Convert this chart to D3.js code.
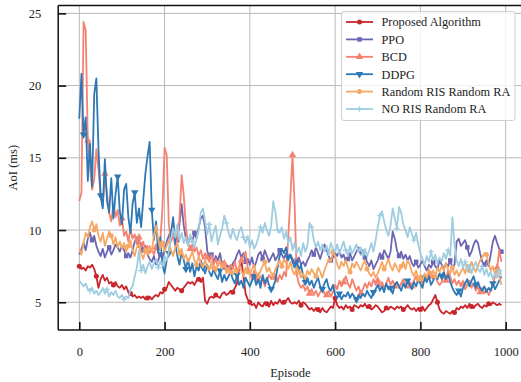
<!DOCTYPE html>
<html><head><meta charset="utf-8">
<script src="https://cdn.jsdelivr.net/npm/d3@7/dist/d3.min.js"></script>
<style>body{margin:0;background:#fff}svg{display:block}</style>
</head><body>
<svg id="chart" width="521" height="382"></svg>
<script>
// ---------- data (AoI in ms, sampled every 5 episodes, episodes 0..990) ----------
const episodeStep = 5;
const seriesNames = ["Proposed Algorithm", "PPO", "BCD", "DDPG", "Random RIS Random RA", "NO RIS Random RA"];
const xTicks = [0, 200, 400, 600, 800, 1000];
const yTicks = [5, 10, 15, 20, 25];

const proposed = [
7.5,7.3,7.4,7.2,7.5,7.4,7.6,7.3,6.8,6.0,
6.6,6.9,6.5,6.7,6.3,6.4,6.2,6.4,6.1,6.0,
6.2,5.9,6.1,5.7,5.6,5.4,5.5,5.3,5.4,5.3,
5.4,5.2,5.3,5.4,5.2,5.4,5.5,5.4,5.7,5.6,
5.9,6.0,6.4,6.2,6.0,5.8,6.0,5.9,5.8,6.0,
6.2,6.4,6.3,6.4,6.2,6.5,6.6,6.4,6.7,5.1,
4.9,5.3,5.4,5.3,5.5,5.4,5.3,5.6,5.7,5.5,
5.6,5.8,5.7,6.0,6.3,7.4,7.9,6.8,5.6,5.2,
5.0,4.8,4.9,4.6,5.0,4.8,4.7,5.0,4.9,4.7,
5.1,4.8,5.0,4.9,5.2,4.9,5.0,5.1,5.3,5.0,
4.9,5.0,4.9,5.1,4.8,5.0,4.9,4.7,4.5,4.6,
4.4,4.6,4.5,4.3,4.6,4.4,4.3,4.5,4.7,4.6,
5.3,4.8,4.6,4.7,4.5,4.8,4.6,4.7,4.5,4.8,
4.7,4.6,4.8,4.7,4.9,4.6,4.7,4.5,4.6,4.8,
4.7,4.5,4.3,4.4,4.6,4.5,4.7,4.6,4.5,4.7,
4.6,4.7,4.5,4.6,4.8,4.6,4.5,4.6,4.4,4.6,
4.5,4.7,4.4,4.6,4.8,4.9,5.2,5.5,5.0,4.5,
4.3,4.2,4.4,4.3,4.2,4.4,4.3,4.6,4.5,4.7,
4.6,4.8,4.6,4.9,4.7,4.6,4.8,4.9,4.7,4.6,
4.8,4.7,4.9,4.8,5.0,4.9,4.8,4.9,4.8];

const ppo = [
8.3,8.7,9.1,8.6,9.4,9.8,9.3,9.6,8.9,8.5,
8.2,8.7,8.1,8.5,8.8,8.3,8.6,9.0,8.8,8.5,
8.9,8.6,8.2,8.4,8.1,8.6,9.2,9.5,8.8,9.1,
8.6,8.9,8.3,8.0,7.8,8.2,7.6,7.9,8.3,8.0,
8.6,9.2,9.6,10.0,9.5,9.8,9.3,10.4,11.8,10.3,
9.4,9.0,9.6,9.2,9.8,9.4,10.2,10.8,11.0,10.2,
8.6,8.0,8.3,7.8,8.2,7.9,8.4,7.6,7.3,7.6,
7.4,7.2,7.7,7.9,8.3,8.6,8.1,8.4,7.8,8.0,
7.6,8.1,7.4,7.8,8.3,8.5,8.0,8.6,8.2,7.8,
8.1,8.4,7.9,8.2,8.6,8.3,8.0,8.4,8.1,8.3,
8.0,7.7,7.9,8.1,7.6,7.8,7.5,7.9,8.2,8.6,
8.3,8.8,8.4,8.0,8.5,9.0,8.6,8.2,7.9,8.1,
8.4,8.2,8.6,8.1,8.3,7.8,8.0,8.4,7.9,8.2,
8.5,8.8,8.3,8.6,8.1,7.8,7.5,7.9,7.3,7.6,
7.9,8.4,8.1,8.6,8.3,8.0,8.5,9.9,9.4,8.6,
8.2,8.5,8.0,8.3,7.9,8.2,7.7,7.5,7.8,7.4,
7.6,7.9,7.5,7.2,7.6,7.4,7.8,7.5,7.3,7.9,
7.6,7.3,7.7,7.5,7.9,7.4,7.6,9.2,9.4,8.9,
9.1,9.3,8.8,8.2,8.5,9.0,9.3,9.1,8.4,7.8,
7.6,7.9,7.5,8.3,9.2,9.6,9.1,8.7,8.5];

const bcd = [
12.0,12.6,24.4,23.8,16.2,14.5,12.8,13.5,15.6,14.2,
12.3,11.6,13.9,12.5,11.2,10.6,11.8,10.9,11.4,10.3,
10.8,9.6,9.9,9.2,10.1,9.4,9.7,9.0,9.5,8.8,
9.2,8.6,8.9,8.4,8.7,8.3,8.8,8.5,9.3,11.5,
15.7,15.2,10.4,9.2,9.6,8.9,9.3,10.8,13.8,12.4,
10.2,9.1,8.7,9.0,8.5,8.8,8.2,8.6,8.0,8.4,
8.1,7.8,8.3,7.6,8.0,7.5,7.9,7.3,7.7,7.4,
7.2,7.6,7.3,7.8,7.1,7.5,7.9,8.2,8.5,7.4,
7.0,6.6,7.2,6.4,6.8,6.3,6.7,6.1,6.5,6.9,
6.6,7.0,6.7,6.4,6.9,6.6,7.1,6.8,9.5,12.2,
15.2,11.8,6.9,6.3,6.0,6.2,5.8,6.1,5.6,5.9,
5.5,5.8,5.4,5.7,6.0,5.6,5.5,5.8,5.4,5.7,
6.2,5.9,6.5,6.1,6.4,6.8,6.3,6.0,6.6,6.2,
5.8,6.1,5.6,5.9,6.3,6.0,6.4,6.1,6.6,6.2,
6.5,6.1,6.4,6.0,6.3,6.7,6.2,6.5,6.1,6.4,
6.0,6.3,6.6,6.2,6.0,6.4,6.1,6.5,6.8,6.4,
6.7,6.3,6.9,6.5,6.8,7.1,6.6,7.0,6.4,6.2,
6.4,6.9,6.5,7.2,6.8,6.3,6.6,6.2,6.5,6.1,
6.3,5.9,6.2,6.5,6.0,6.3,5.8,6.1,5.7,6.0,
5.6,5.9,5.5,5.8,6.2,6.8,7.4,8.6,7.8];

const ddpg = [
17.7,20.8,16.6,17.8,13.4,16.0,13.0,19.4,20.5,15.6,
12.4,11.5,14.9,12.0,11.2,13.6,10.8,12.5,13.7,11.3,
10.4,12.8,13.2,10.9,9.8,11.8,12.6,10.5,11.5,10.2,
12.1,13.9,15.1,16.1,11.4,9.3,10.6,8.4,9.5,7.6,
7.0,7.9,8.4,9.7,10.9,9.1,8.2,7.6,8.5,7.9,
7.3,8.0,7.1,7.7,6.8,7.5,7.2,7.9,7.4,7.0,
7.6,7.1,6.8,7.3,6.9,6.6,7.2,6.4,6.9,6.5,
6.8,7.1,6.6,6.3,6.9,6.2,6.5,6.0,6.7,6.4,
6.1,6.5,6.8,6.2,6.6,6.0,6.9,6.3,6.7,6.2,
5.9,6.1,6.5,7.4,8.2,8.7,8.4,8.8,8.1,8.3,
7.8,7.4,7.9,7.2,7.6,6.8,6.4,6.7,6.2,6.5,
6.0,6.4,6.7,6.1,5.9,6.3,6.6,6.0,5.8,6.2,
5.5,5.3,5.6,5.2,5.5,5.4,5.7,5.3,5.6,5.4,
5.2,5.5,5.3,5.6,5.4,5.8,5.5,5.3,5.7,5.9,
6.2,5.8,6.1,5.7,6.3,5.9,6.0,5.6,6.2,6.4,
6.1,5.8,6.3,6.0,6.5,6.2,5.9,6.4,6.1,6.6,
6.3,6.0,6.7,6.4,6.8,6.2,6.5,6.9,6.6,7.0,
6.8,7.1,6.6,6.9,6.4,6.0,5.7,5.5,5.8,5.4,
6.0,6.3,6.6,6.1,6.5,6.8,6.2,6.4,6.0,5.8,
6.1,5.7,6.0,5.8,6.3,5.9,6.2,6.5,6.8];

const randomRis = [
8.7,8.3,9.1,9.8,9.5,10.2,10.6,10.0,10.4,9.6,
9.2,9.8,8.9,9.4,9.9,9.6,9.0,9.5,8.8,9.2,
8.7,9.1,8.5,8.9,9.3,8.6,8.2,8.8,9.0,8.4,
8.0,8.6,8.3,8.9,8.5,9.6,10.3,9.4,8.7,9.1,
8.5,8.9,9.3,8.6,8.2,8.8,9.1,8.4,8.7,8.0,
8.3,7.8,8.1,8.5,7.9,7.6,8.2,7.7,7.4,7.9,
7.5,7.2,7.8,7.4,7.1,7.6,7.9,7.3,7.7,7.0,
7.4,7.1,6.9,7.3,7.0,7.5,7.2,6.8,7.4,7.1,
6.9,7.3,7.6,7.0,6.7,7.2,7.5,7.8,7.1,7.4,
7.0,6.8,7.3,7.6,7.9,7.5,8.0,7.7,7.3,7.8,
7.2,6.9,7.4,7.1,6.7,7.0,6.6,7.2,6.9,7.3,
7.0,6.8,7.4,7.1,6.7,7.2,7.6,8.0,7.8,8.5,
8.2,7.6,7.3,7.8,7.5,7.9,7.4,7.1,7.7,7.4,
7.8,7.5,7.2,7.6,7.9,7.3,7.0,6.8,7.1,6.7,
7.0,7.4,7.8,7.3,7.6,8.0,7.5,7.2,7.7,7.4,
7.1,7.5,7.8,7.3,7.9,7.6,7.1,6.8,7.2,6.6,
6.9,6.5,7.0,6.7,7.3,6.9,7.2,6.8,7.4,7.1,
7.5,7.2,7.7,7.3,7.0,7.4,6.9,7.2,6.8,7.1,
7.4,7.0,7.6,7.2,7.8,7.4,7.1,7.5,7.9,8.1,
8.4,8.3,7.7,7.2,7.5,6.9,7.3,6.8,6.2];

const noRis = [
6.5,6.3,6.1,6.3,5.9,5.8,6.0,5.6,5.8,5.5,
5.7,6.0,5.6,5.9,5.4,5.7,5.5,5.8,5.4,5.3,
5.5,5.2,5.4,5.3,5.9,6.1,6.8,7.4,8.6,7.2,
7.6,7.0,7.5,7.8,7.3,7.7,8.0,7.4,7.8,7.5,
8.2,7.9,8.5,9.4,10.1,9.6,10.4,9.3,9.8,9.1,
9.5,8.9,9.7,9.2,8.8,9.4,10.0,11.2,11.5,10.6,
9.7,10.4,9.2,9.8,10.3,9.0,9.6,10.1,11.0,10.5,
9.8,9.4,10.1,9.6,9.3,9.9,10.2,9.5,9.1,9.6,
8.8,9.3,8.7,9.0,9.5,10.2,9.8,10.5,10.0,9.6,
10.3,12.0,11.2,10.0,9.8,10.2,9.4,9.9,9.1,9.5,
8.6,9.0,8.4,8.8,8.2,9.1,8.5,8.9,10.5,10.2,
9.3,8.8,9.2,8.6,9.0,8.5,8.9,8.4,9.1,8.7,
8.5,9.0,8.3,8.8,9.2,8.6,8.2,8.9,8.4,8.7,
9.0,8.5,8.8,8.3,8.7,8.2,8.6,9.1,8.5,9.3,
10.2,11.0,11.3,10.6,10.0,9.6,10.3,11.5,10.8,10.1,
11.6,11.2,10.4,10.0,9.5,10.2,9.7,9.3,9.8,9.0,
8.4,8.0,7.6,8.2,7.8,8.5,7.9,8.3,7.7,8.1,
7.8,8.4,8.0,8.6,8.2,10.9,9.0,7.9,7.5,8.0,
7.4,7.8,7.2,7.6,7.0,7.5,7.8,7.3,7.1,7.5,
6.9,7.3,6.8,7.1,6.6,7.0,6.7,7.2,6.9];

const seriesValues = [proposed, ppo, bcd, ddpg, randomRis, noRis];
const seriesColors = ["#c9252b", "#6c66b2", "#f5816f", "#2d78b6", "#f6a763", "#9ecde1"];
const markerTypes = ["circle", "square", "triUp", "triDown", "circle", "plus"];
const markerOffsets = [0, 2, 4, 6, 1, 3];

// ---------- layout ----------
const svg = d3.select("#chart");
const PL = 58.2, PR = 522.5, PT = 5.4, PB = 330;
const x = d3.scaleLinear().domain([-49.5, 1039.5]).range([PL, PR]);
const y = d3.scaleLinear().domain([3.08, 25.55]).range([PB, PT]);
const FONT = "'Liberation Serif','Times New Roman',serif";
const FS = 12.5;

// grid
const g = svg.append("g");
g.selectAll("line.gx").data(xTicks).enter().append("line")
  .attr("x1", d => x(d)).attr("x2", d => x(d)).attr("y1", PT).attr("y2", PB)
  .attr("stroke", "#b8b8b8").attr("stroke-width", 1);
g.selectAll("line.gy").data(yTicks).enter().append("line")
  .attr("x1", PL).attr("x2", PR).attr("y1", d => y(d)).attr("y2", d => y(d))
  .attr("stroke", "#b8b8b8").attr("stroke-width", 1);

// clip
svg.append("clipPath").attr("id", "clip").append("rect")
  .attr("x", PL).attr("y", PT).attr("width", PR - PL).attr("height", PB - PT);

const line = d3.line().x((d, i) => x(i * episodeStep)).y(d => y(d));
const plot = svg.append("g").attr("clip-path", "url(#clip)");

function marker(sel, type, color, s) {
  if (type === "circle") {
    sel.append("circle").attr("r", s * 0.5).attr("fill", color);
  } else if (type === "square") {
    sel.append("rect").attr("x", -s * 0.45).attr("y", -s * 0.45).attr("width", s * 0.9).attr("height", s * 0.9).attr("fill", color);
  } else if (type === "triUp" || type === "triDown") {
    const sym = d3.symbol().type(d3.symbolTriangle).size(s * s * 0.95);
    sel.append("path").attr("d", sym()).attr("fill", color)
      .attr("transform", type === "triDown" ? "rotate(180)" : null);
  } else {
    const h = s * 0.55;
    sel.append("path").attr("d", `M${-h},0H${h}M0,${-h}V${h}`).attr("stroke", color).attr("stroke-width", 1.3);
  }
}

seriesValues.forEach((vals, k) => {
  plot.append("path").datum(vals).attr("d", line)
    .attr("fill", "none").attr("stroke", seriesColors[k]).attr("stroke-width", 1.8)
    .attr("stroke-linejoin", "round");
  vals.forEach((v, i) => {
    if ((i + markerOffsets[k]) % 8 === 0) {
      const m = plot.append("g").attr("transform", `translate(${x(i * episodeStep)},${y(v)})`);
      marker(m, markerTypes[k], seriesColors[k], 5);
    }
  });
});

// axes frame
const ax = svg.append("g");
[[PL, PT, PL, PB], [PL, PB, PR, PB], [PL, PT, PR, PT], [PR, PT, PR, PB]].forEach(s => {
  ax.append("line").attr("x1", s[0]).attr("y1", s[1]).attr("x2", s[2]).attr("y2", s[3])
    .attr("stroke", "#111").attr("stroke-width", 1.5);
});

// ticks via d3 axes (inward)
const xAxis = d3.axisBottom(x).tickValues(xTicks).tickSizeInner(-8).tickSizeOuter(0).tickPadding(17).tickFormat(d3.format("d"));
const yAxis = d3.axisLeft(y).tickValues(yTicks).tickSizeInner(-8).tickSizeOuter(0).tickPadding(17).tickFormat(d3.format("d"));
const gx = svg.append("g").attr("transform", `translate(0,${PB})`).call(xAxis);
const gy = svg.append("g").attr("transform", `translate(${PL},0)`).call(yAxis);
[gx, gy].forEach(a => {
  a.select(".domain").remove();
  a.selectAll(".tick line").attr("stroke", "#111").attr("stroke-width", 1.6);
  a.selectAll(".tick text").attr("font-family", FONT).attr("font-size", FS).attr("fill", "#222");
});

// axis labels
svg.append("text").attr("x", (PL + PR) / 2).attr("y", 377).attr("text-anchor", "middle")
  .attr("font-family", FONT).attr("font-size", FS).attr("fill", "#222").text("Episode");
svg.append("text").attr("transform", `translate(16.5,${(PT + PB) / 2}) rotate(-90)`).attr("text-anchor", "middle")
  .attr("font-family", FONT).attr("font-size", FS).attr("fill", "#222").text("AoI (ms)");

// legend
const lg = svg.append("g");
lg.append("rect").attr("x", 341.5).attr("y", 11.5).attr("width", 173.5).attr("height", 109)
  .attr("rx", 2.5).attr("fill", "rgba(255,255,255,0.8)").attr("stroke", "#cfcfcf").attr("stroke-width", 1);
seriesNames.forEach((name, k) => {
  const cy = 22 + k * 17.4;
  lg.append("line").attr("x1", 346).attr("x2", 373).attr("y1", cy).attr("y2", cy)
    .attr("stroke", seriesColors[k]).attr("stroke-width", 1.8);
  const m = lg.append("g").attr("transform", `translate(359.5,${cy})`);
  marker(m, markerTypes[k], seriesColors[k], 5);
  lg.append("text").attr("x", 381.5).attr("y", cy + 4.3).attr("font-family", FONT).attr("font-size", 12.3)
    .attr("fill", "#222").text(name);
});
</script>
</body></html>
